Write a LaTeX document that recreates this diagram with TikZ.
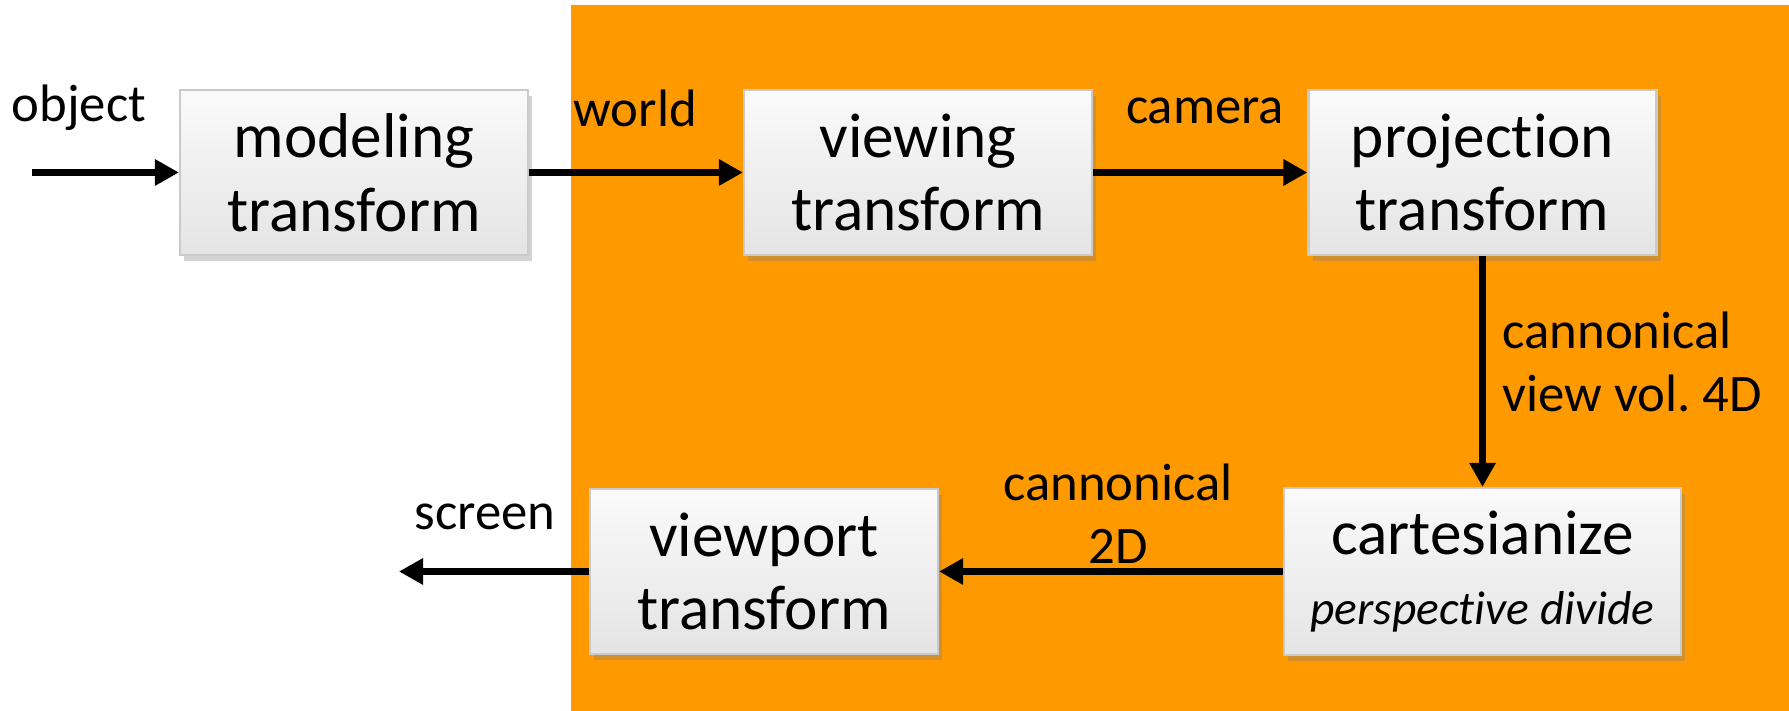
\documentclass[tikz,border=0pt]{standalone}
\usepackage{fontspec}
\setmainfont{Carlito}[Ligatures=NoCommon]
\frenchspacing
\usetikzlibrary{arrows.meta,shadows}
\definecolor{ink}{HTML}{000000}
\definecolor{band}{HTML}{FF9900}
\definecolor{boxtop}{HTML}{FAFAFA}
\definecolor{boxbot}{HTML}{E4E4E4}
\definecolor{boxrim}{HTML}{CACACA}
\tikzset{
  stage/.style={draw=boxrim,line width=0.6pt,top color=boxtop,bottom color=boxbot,
    minimum width=3.48cm,minimum height=1.65cm,align=center,inner sep=0pt,
    text=ink,font=\fontsize{18}{21}\selectfont,
    drop shadow={shadow xshift=1.2pt,shadow yshift=-1.6pt,opacity=0.35}},
  lbl/.style={text=ink,font=\fontsize{15}{18}\selectfont,inner sep=0pt},
  flow/.style={-{Triangle[length=2.4mm,width=2.5mm]},line width=2pt,ink}
}

\begin{document}
\begin{tikzpicture}
  \useasboundingbox (0,0) rectangle (17.89,7.11);
  \fill[band] (5.71,0) rectangle (17.89,7.06);

  % the five stages
  \node[stage] (model) at (3.54,5.385) {modeling\\transform};
  \node[stage] (view) at (9.18,5.385) {viewing\\transform};
  \node[stage] (proj) at (14.825,5.385) {projection\\transform};
  \node[stage,minimum width=3.97cm,minimum height=1.67cm] (cart) at (14.825,1.395)
       {cartesianize\\[-1pt]{\fontsize{13.5}{16}\selectfont\itshape perspective divide}};
  \node[stage] (port) at (7.64,1.395) {viewport\\transform};

  % pipeline arrows
  \coordinate (objin) at (0.32,5.385);
  \coordinate (scrout) at (3.99,1.395);
  \draw[flow] (objin) -- (model);
  \draw[flow] (model) -- (view);
  \draw[flow] (view) -- (proj);
  \draw[flow] (proj) -- (cart);
  \draw[flow] (cart) -- (port);
  \draw[flow] (port) -- (scrout);

  % coordinate spaces
  \node[lbl,anchor=west] (objlbl) at (0.11,6.03) {object};
  \node[lbl,anchor=west] (worldlbl) at (5.73,6.03) {world};
  \node[lbl] (camlbl) at (12.05,6.0) {camera};
  \node[lbl,anchor=west,align=left] (cvvlbl) at (15.02,3.49)
       {cannonical\\view vol. 4D};
  \node[lbl,align=center] (c2dlbl) at (11.18,1.97) {cannonical\\2D};
  \node[lbl] (scrlbl) at (4.85,1.94) {screen};
\end{tikzpicture}
\end{document}
